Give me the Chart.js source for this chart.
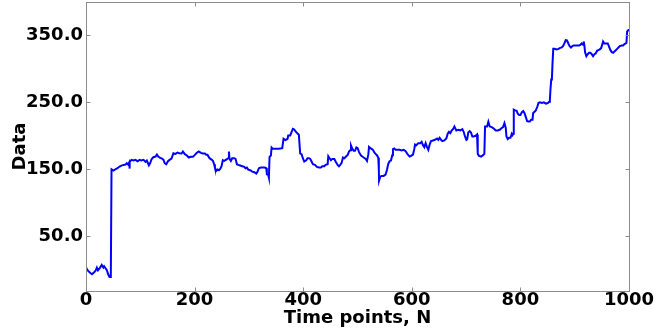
<!DOCTYPE html>
<html>
<head>
<meta charset="utf-8">
<script src="https://cdn.jsdelivr.net/npm/chart.js@4/dist/chart.umd.min.js"></script>
<style>
  html, body { margin: 0; padding: 0; background: #ffffff; }
  #wrap { width: 655px; height: 334px; }
</style>
</head>
<body>
<div id="wrap"><canvas id="chart" width="655" height="334"></canvas></div>
<script>
// Time index of each sampled vertex of the series
const timePoints = [
  0, 4, 8, 11, 15, 18, 20, 22, 26, 29, 32, 33.5, 36, 38.4, 40.8, 43.3, 45.7,
  47, 50.7, 54, 58, 61.7, 65.4, 69, 72.8, 75, 77.7, 79.5, 80, 80.8, 83.8, 87.5, 91, 95, 98.6,
  102, 106, 109.6, 112, 115.8, 118, 120.7, 124, 128, 130.6, 133, 136.7, 140, 142.8, 145,
  147.7, 151, 153.8, 157.5, 161, 165, 168.6, 172,
  176, 178.4, 182, 185.8, 189.4, 193, 196.8, 200.5, 204, 207.8, 211.5, 215.2, 219, 221.4,
  223.8, 227.5, 231.2, 233.7, 236, 237.4, 239.8, 242.3, 244.7, 247.2, 249.6, 252, 254.6,
  258.3, 262, 263.2, 264.4, 266.8, 269.3, 273, 275.4, 277.9, 280.3, 284, 287.7, 291.4,
  293.8, 296.3, 298.8, 302.5, 306.2, 310, 313.6, 316, 318.4, 322, 325.8, 329.4, 332,
  333.1, 335.6, 336.8, 338, 340.5, 341.8, 344.2, 348,
  349.1, 355.2, 361.4, 363.8, 367.5, 371.2, 372.4, 376.1, 378.5, 381, 383.5, 385.9, 389.6,
  392, 393.3, 394.5, 397, 399.4, 401.9, 405.6, 408, 410.5, 413, 415.4, 417.9, 421.6, 425.3,
  429, 432.7, 435.1, 438.8, 441.3, 445, 446.2, 448.6, 451.1, 453.6, 457.3, 459.7, 463.4,
  465.9, 468.3, 470.8, 473.2, 475.7, 479.4, 481.9, 484.3, 486.8, 488, 490.5, 492.9, 495.4,
  497.9, 500.3, 502.8, 506.5, 511.4, 515.1, 517.5, 520, 521.2, 523.7,
  526, 528.5, 531, 533.3, 535.8, 538.3, 539.3, 539.7, 541.9, 544.4, 548, 551.7, 554.2,
  556.7, 559.1, 561.6, 564, 565.3, 567.7, 570.2, 573.9, 577.6, 581.2, 585, 588.6, 591.1,
  593.6, 596, 598.5, 602.2, 604.6, 605.9, 608.3, 612, 615.7, 618.1, 620.6, 623.1, 625.5,
  628, 630.4, 632.9, 635.4, 639, 642.7, 646.4, 648.9, 651.3, 653.8, 656.2, 659.9, 663.6,
  666.1, 668.5, 671, 673.4, 675.9, 678.4, 682, 685.7, 689.4, 693.1, 695.5, 698, 700.5,
  702, 704, 706.6, 709, 711.5, 713.9, 717.6, 720.1, 721.3, 721.6, 723.8, 727.5, 731.2,
  733.6, 734.9, 738.6, 741, 743.5, 747.2, 750.9, 754.6, 758.2, 761.9, 764.4, 768.1, 770.6,
  773, 774.3, 776.7, 779.2, 781.7, 784.1, 785.4, 786.6, 787.8, 790.3, 792.8, 795.2, 797.7,
  800.1, 802.6, 805.1, 807.5, 810, 812.4, 814.9, 817.4, 819.8, 822.3, 823.5, 826, 828.4,
  830.9, 833.3, 835.8, 839.5, 843.2, 846.9, 850.6, 853.1, 854.3, 855.5, 856.8, 858, 859.2,
  860.5, 862.9, 866.6, 870.3,
  872.3, 876, 878.5, 880.9, 883.4, 885.8, 888.3, 890.7, 893.2, 895.7, 898.1, 900.6, 903,
  905.5, 908, 910.4, 912.9, 915.4, 916.6, 917.8, 919.1, 921.5, 924, 926.4, 928.9, 931.4,
  933.8, 936.3, 938.7, 941.2, 943.7, 946.1, 948.6, 951, 952.3, 954.7, 958.4, 960.9, 963.4,
  965.8, 968.3, 970.7, 973.2, 975.7, 978.1, 980.6, 983, 986.7, 989.2, 991.6, 994.1, 995.3,
  996.6, 999, 1000
];

// Series value at each time index
const values = [
  3, -2, -5, -7, -4, -1, 3, -1, 3, 7, 3, 5, 2, -1, -7, -11, -11,
  150, 148, 150, 151.5, 154, 155.5, 156.5, 157, 159, 157, 160, 151, 161, 164, 163, 164, 162, 164,
  163, 164, 161, 163, 156, 159, 165, 168, 169, 172, 169, 167, 166, 164, 159,
  157.5, 162, 164, 166, 174, 173, 175, 174,
  173.5, 176.5, 172.5, 170.5, 167.5, 168.5, 168.5, 171.5, 174.5, 176.5, 174.5, 173.5, 173.5, 171.5,
  171.5, 166.5, 164.5, 162.5, 157.5, 152.5, 147.5, 149.5, 148.5, 150.5, 154.5, 163.5, 162.5,
  164.5, 166.5, 176.5, 165.5, 162.5, 166.5, 166.5, 165.5, 157.5, 156.5, 155.5, 154.5, 153.5,
  151.5, 152.5, 149.5, 148.5, 146.5, 145.5, 143.5, 146.5, 151.5, 152.5, 152.5, 152.5, 151.5,
  142.5, 141.5, 137.5, 168.5, 170.5, 182.5, 180.5, 180.5,
  180.5, 180.5, 181.5, 195.5, 193.5, 195.5, 200.5, 200.5, 205.5, 210.5, 209.5, 206.5, 203.5,
  201.5, 186.5, 173.5, 172.5, 166.5, 161.5, 163.5, 166.5, 166.5, 165.5, 161.5, 157.5, 156.5, 153.5,
  152.5, 152.5, 154.5, 154.5, 156.5, 157.5, 169.5, 166.5, 163.5, 165.5, 165.5, 161.5, 156.5,
  154.5, 156.5, 159.5, 167.5, 166.5, 169.5, 171.5, 176.5, 178.5, 185.5, 180.5, 177.5, 177.5,
  182.5, 181.5, 175.5, 170.5, 167.5, 165.5, 162.5, 172.5, 183.5, 181.5,
  180.5, 179, 175, 173, 171, 167, 149, 133, 139, 140, 140, 142, 149,
  158, 162, 163, 171, 180, 181, 179, 179, 179, 178, 179, 177, 174,
  171, 169, 170, 172, 180, 187, 186, 189, 189, 191, 186, 183, 189,
  183, 179, 187, 192, 193, 194, 196, 194, 197, 194, 192, 193, 196,
  203, 206, 204, 208, 210, 214, 208, 209, 208, 210, 206, 199, 194,
  195, 205, 207, 205, 199, 199, 200, 202, 189, 173, 170, 169, 171,
  173, 214, 214, 221, 214, 213, 211, 208, 208, 209, 211, 213, 219,
  212, 199, 195, 197, 197, 203, 201, 203, 239, 238, 237.5, 233, 231,
  231, 235, 237, 234, 228, 222, 221.5, 221.5, 224, 224, 234, 236, 238,
  243, 249, 250, 249, 250, 248, 249, 251, 254, 271, 284, 285, 309,
  330, 330, 329, 330,
  331, 332, 334, 338, 343, 342.5, 338, 334, 332, 334, 335, 335, 335,
  335, 335, 336, 338, 336, 341, 335, 325, 319, 322, 324, 324, 322,
  319, 322, 323, 327, 328, 329, 331, 337, 341, 338, 338, 338, 333,
  328, 325, 324, 326, 328, 330, 332, 334, 335, 335, 337, 338, 339,
  356, 358, 358
];

// Axis tick positions
const xTickValues = [0, 200, 400, 600, 800, 1000];
const yTickValues = [50, 150, 250, 350];

const labelFont = { family: "'DejaVu Sans', sans-serif", size: 18, weight: 'bold' };

// Grey frame around the plot area with short inward tick marks on all four sides
const framePlugin = {
  id: 'frame',
  afterDatasetsDraw(chart) {
    const { ctx, chartArea: a, scales } = chart;
    const L = Math.round(a.left) + 0.5, R = Math.round(a.right) + 0.5;
    const T = Math.round(a.top) + 0.5, B = Math.round(a.bottom) + 0.5;
    const len = 4;
    ctx.save();
    ctx.strokeStyle = 'rgb(140,140,140)';
    ctx.lineWidth = 1;
    ctx.beginPath();
    scales.x.ticks.forEach(t => {
      const px = Math.round(scales.x.getPixelForValue(t.value)) + 0.5;
      ctx.moveTo(px, B); ctx.lineTo(px, B - len);
      ctx.moveTo(px, T); ctx.lineTo(px, T + len);
    });
    scales.y.ticks.forEach(t => {
      const py = Math.round(scales.y.getPixelForValue(t.value)) + 0.5;
      ctx.moveTo(L, py); ctx.lineTo(L + len, py);
      ctx.moveTo(R, py); ctx.lineTo(R - len, py);
    });
    ctx.stroke();
    ctx.strokeRect(L, T, R - L, B - T);
    ctx.restore();
  }
};

new Chart(document.getElementById('chart').getContext('2d'), {
  type: 'line',
  data: {
    datasets: [{
      data: timePoints.map((t, i) => ({ x: t, y: values[i] })),
      borderColor: '#0000ff',
      borderWidth: 2,
      pointRadius: 0,
      tension: 0,
      fill: false
    }]
  },
  options: {
    responsive: false,
    animation: false,
    layout: { padding: { top: 2, right: 26, left: 0, bottom: 0 } },
    plugins: { legend: { display: false }, tooltip: { enabled: false } },
    scales: {
      x: {
        type: 'linear',
        min: 0,
        max: 1000,
        afterBuildTicks: s => { s.ticks = xTickValues.map(v => ({ value: v })); },
        afterFit: s => { s.height = 43; s.paddingLeft = 0; s.paddingRight = 0; },
        grid: { display: false, drawTicks: false },
        border: { display: false },
        ticks: { font: labelFont, color: '#000', padding: -1, maxRotation: 0, autoSkip: false, callback: v => String(v) },
        title: { display: true, text: 'Time points, N', font: labelFont, color: '#000', padding: { top: 0, bottom: 5 } }
      },
      y: {
        type: 'linear',
        min: -32,
        max: 400,
        afterBuildTicks: s => { s.ticks = yTickValues.map(v => ({ value: v })); },
        afterFit: s => { s.width = 86; s.paddingTop = 0; s.paddingBottom = 0; },
        grid: { display: false, drawTicks: false },
        border: { display: false },
        ticks: { font: labelFont, color: '#000', padding: 3, callback: v => Number(v).toFixed(1) },
        title: { display: true, text: 'Data', font: labelFont, color: '#000', padding: { top: 10, bottom: 0 } }
      }
    }
  },
  plugins: [framePlugin]
});
</script>
</body>
</html>
